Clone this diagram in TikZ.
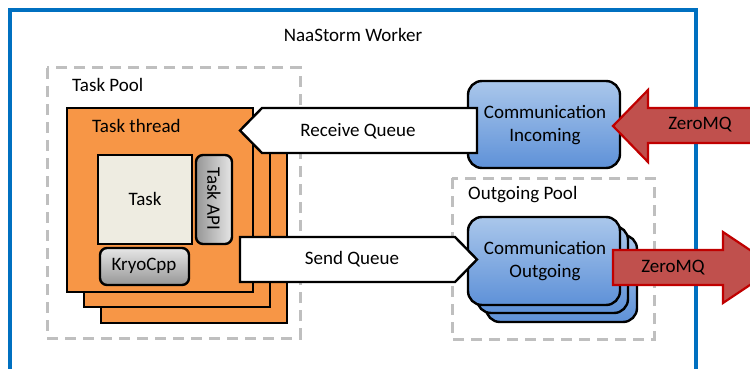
\documentclass[tikz,border=0pt]{standalone}
\usepackage{fontspec}
\setmainfont{Carlito}
\begin{document}
\begin{tikzpicture}[x=1pt,y=-1pt,
  every node/.style={font=\fontsize{19}{23}\selectfont, inner sep=0pt},
  frame/.style={draw={rgb,255:red,0;green,112;blue,192}, line width=3.5pt},
  pool/.style={draw={rgb,255:red,191;green,191;blue,191}, line width=3pt, dash pattern=on 11pt off 7pt},
  blk/.style={draw=black, line width=2.4pt},
  thread/.style={blk, fill={rgb,255:red,247;green,150;blue,70}},
  taskbox/.style={blk, fill={rgb,255:red,238;green,236;blue,225}},
  graybox/.style={blk, rounded corners=7pt, top color={rgb,255:red,230;green,230;blue,230}, bottom color={rgb,255:red,150;green,150;blue,150}},
  graybox90/.style={blk, rounded corners=7pt, left color={rgb,255:red,150;green,150;blue,150}, right color={rgb,255:red,230;green,230;blue,230}},
  comm/.style={blk, rounded corners=14pt, top color={rgb,255:red,170;green,199;blue,235}, bottom color={rgb,255:red,94;green,145;blue,216}},
  queue/.style={blk, fill=white, line join=miter},
  zmq/.style={draw={rgb,255:red,192;green,0;blue,0}, line width=2.2pt, fill={rgb,255:red,192;green,80;blue,77}, line join=miter}
]
\useasboundingbox (0,0) rectangle (750,369);
\clip (0,0) rectangle (750,369);
\fill[white] (0,0) rectangle (750,369);
% outer frame
\draw[frame] (10,10) rectangle (696,390);
\node (worker) at (353,35) {NaaStorm Worker};
% task pool
\draw[pool] (47,68) rectangle (300,338);
\node[anchor=west] (taskpool) at (72,85) {Task Pool};
% task threads
\draw[thread] (101,140) rectangle (287,323);
\draw[thread] (84,124) rectangle (270,307);
\draw[thread] (67,108) rectangle (253,292);
\node[anchor=west] (tthread) at (92,126) {Task thread};
\draw[taskbox] (98,155) rectangle (192,244);
\node (task) at (145,199) {Task};
\draw[graybox90] (196,155) rectangle (232,244);
\node[rotate=-90] (taskapi) at (214,199) {Task API};
\draw[graybox] (100,248) rectangle (189,285);
\node (kryo) at (144,266) {KryoCpp};
% outgoing pool
\draw[pool] (452,178) rectangle (654,339);
\node[anchor=west] (outpool) at (468,195) {Outgoing Pool};
% communication boxes
\draw[comm] (468,81) rectangle (620,168);
\node[align=center] (cin) at (545,125) {Communication\\Incoming};
\draw[comm] (486,235) rectangle (637,322);
\draw[comm] (477,226) rectangle (628,313);
\draw[comm] (468,217) rectangle (620,305);
\node[align=center] (cout) at (545,261) {Communication\\Outgoing};
% queues
\draw[queue] (477,108) -- (262,108) -- (240,130.5) -- (262,153) -- (477,153) -- cycle;
\node (recv) at (358,131) {Receive Queue};
\draw[queue] (240,237) -- (455,237) -- (477,259.5) -- (455,282) -- (240,282) -- cycle;
\node (send) at (352,259) {Send Queue};
% ZeroMQ arrows
\draw[zmq] (770,108) -- (648,108) -- (648,90) -- (613,126) -- (648,162) -- (648,143) -- (770,143) -- cycle;
\node (zin) at (700,125) {ZeroMQ};
\draw[zmq] (613,250) -- (723,250) -- (723,232) -- (776,267.5) -- (723,303) -- (723,285) -- (613,285) -- cycle;
\node (zout) at (673,268) {ZeroMQ};
\end{tikzpicture}
\end{document}
